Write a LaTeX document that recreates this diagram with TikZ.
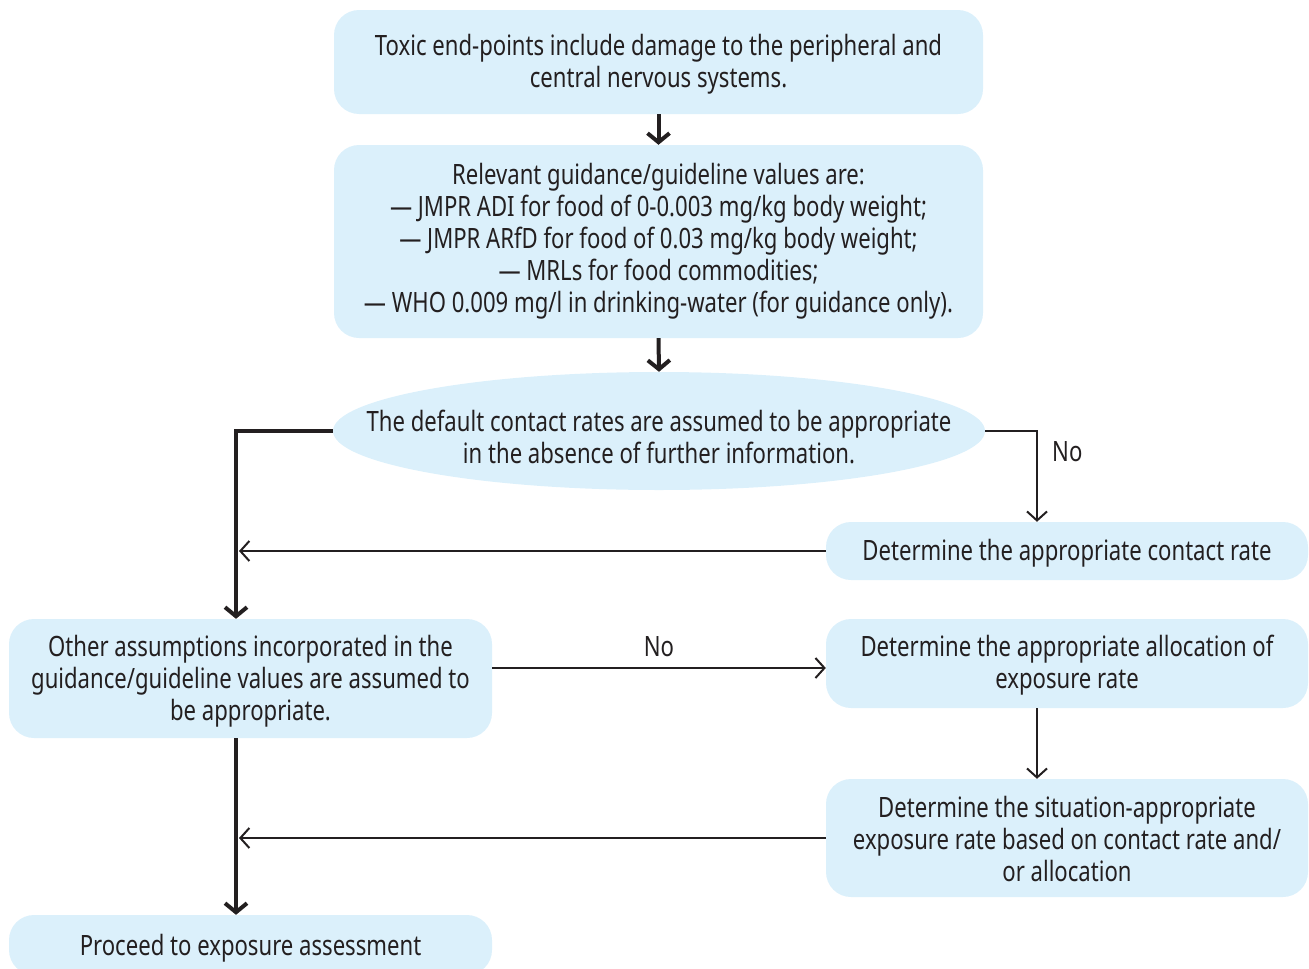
\documentclass[tikz,border=0pt]{standalone}
\usepackage{fontspec}
\setmainfont{Noto Sans}[FakeStretch=0.79]
\usetikzlibrary{arrows.meta}
\definecolor{boxfill}{RGB}{219,240,251}
\definecolor{ink}{RGB}{35,31,32}
\tikzset{
  basetext/.style={inner sep=0pt, align=center, text=ink,
    font=\fontsize{28}{32}\selectfont,
    execute at end node={\rule[-14pt]{0pt}{14pt}}},
  % height of the text block above its last baseline: places the text in its box
  lift/.style={execute at begin node={\rule{0pt}{#1pt}}},
  stepbox/.style={basetext, draw=none, fill=boxfill, rounded corners=25pt},
  ovalbox/.style={basetext, draw=none},
  heavy/.style={draw=ink, line width=4pt, -{Straight Barb[length=9pt,width=22pt]}},
  light/.style={draw=ink, line width=2pt, -{Straight Barb[length=9pt,width=20pt]}},
  lbl/.style={text=ink, font=\fontsize{28}{32}\selectfont, inner sep=0pt},
}
\begin{document}
\begin{tikzpicture}[x=1pt,y=-1pt]
\path[use as bounding box] (0,0) rectangle (1309,969);
\clip (0,0) rectangle (1309,969);

% process steps
\node[stepbox, lift=64, minimum width=649pt, minimum height=104pt] (b1) at (658.5,62)
  {Toxic end-points include damage to the peripheral and\\ central nervous systems.};
\node[stepbox, lift=156, minimum width=649pt, minimum height=193pt] (b2) at (658.5,241.5)
  {Relevant guidance/guideline values are:\\
   --- JMPR ADI for food of 0-0.003 mg/kg body weight;\\
   --- JMPR ARfD for food of 0.03 mg/kg body weight;\\
   --- MRLs for food commodities;\\
   --- WHO 0.009 mg/l in drinking-water (for guidance only).};

% decision oval: filled ellipse behind a frame node of the same extent
\fill[boxfill] (659,431) ellipse [x radius=326pt, y radius=59pt];
\node[ovalbox, lift=78, minimum width=652pt, minimum height=118pt] (ell) at (659,431)
  {The default contact rates are assumed to be appropriate\\ in the absence of further information.};

\node[stepbox, lift=32, minimum width=482pt, minimum height=58pt] (b4) at (1067,551)
  {Determine the appropriate contact rate};
\node[stepbox, lift=97, minimum width=483pt, minimum height=119pt] (b3) at (250.5,678.5)
  {Other assumptions incorporated in the\\ guidance/guideline values are assumed to\\ be appropriate.};
\node[stepbox, lift=64, minimum width=482pt, minimum height=89pt] (b5) at (1067,663.5)
  {Determine the appropriate allocation of\\ exposure rate};
\node[stepbox, lift=100, minimum width=482pt, minimum height=118pt] (b6) at (1067,838)
  {Determine the situation-appropriate\\ exposure rate based on contact rate and/\\ or allocation};
\node[stepbox, lift=34, minimum width=483pt, minimum height=60pt] (b7) at (250.5,945)
  {Proceed to exposure assessment};

% main trunk on the left
\coordinate (trunk) at (236,431);
\coordinate (trunkin) at (239,431);

\draw[heavy] (b1.south) -- (b2.north);
\draw[heavy] (b2.south) -- (ell.north);
\draw[heavy] (ell.west) -| (b3.north -| trunk);
\draw[heavy] (b3.south -| trunk) -- (b7.north -| trunk);

% "No" branch of the contact-rate decision
\coordinate (crx) at (1037,431);
\draw[light] (ell.east) -| (b4.north -| crx);
\node[lbl, anchor=west] (no1) at (1052,452) {No};
\draw[light] (b4.west) -- (b4.west -| trunkin);

% "No" branch of the other-assumptions decision
\coordinate (oa) at (492,668);
\draw[light] (oa) -- (b5.west |- oa) node[lbl, midway, above=10pt] (no2) {No};
\draw[light] (b5.south -| crx) -- (b6.north -| crx);
\draw[light] (b6.west) -- (b6.west -| trunkin);
\end{tikzpicture}
\end{document}
